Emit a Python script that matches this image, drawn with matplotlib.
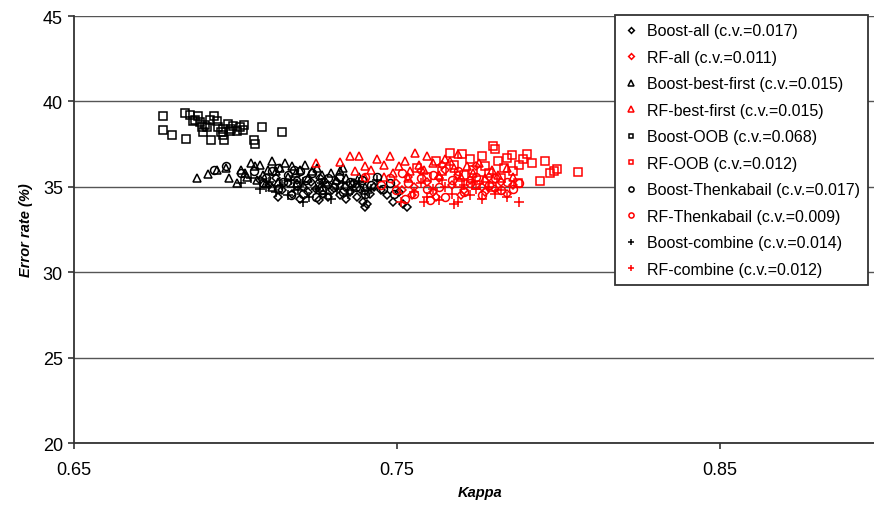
import matplotlib
matplotlib.use("Agg")
from matplotlib import pyplot as plt

plt.rcParams['font.family'] = ['Liberation Sans', 'DejaVu Sans']

# region Data
boost_all_k = [0.7076, 0.7104, 0.7124, 0.7143, 0.7162, 0.7176, 0.7191, 0.7210, 0.7224, 0.7234, 0.7248, 0.7262, 0.7272,
               0.7286, 0.7300, 0.7315, 0.7324, 0.7339, 0.7353, 0.7368, 0.7377, 0.7387, 0.7396, 0.7406, 0.7415, 0.7430,
               0.7449, 0.7468, 0.7487, 0.7506, 0.7520, 0.7531, 0.7401, 0.7200, 0.7258, 0.7133, 0.7286, 0.7343]
boost_all_e = [35.4, 35.1, 35.5, 34.8, 35.2, 34.6, 35.4, 35.0, 34.7, 35.3, 34.9, 35.5, 34.6,
               35.1, 34.8, 35.3, 34.5, 35.0, 34.7, 35.2, 34.4, 34.9, 34.1, 34.0, 34.6, 35.0,
               34.8, 34.5, 34.1, 34.7, 34.0, 33.8, 33.8, 34.3, 34.2, 34.4, 34.4, 34.3]

rf_all_k = [0.7497, 0.7516, 0.7535, 0.7554, 0.7573, 0.7592, 0.7611, 0.7630, 0.7650, 0.7669, 0.7688, 0.7707, 0.7726,
            0.7745, 0.7764, 0.7784, 0.7803, 0.7822, 0.7841, 0.7860, 0.7620, 0.7697, 0.7774, 0.7545, 0.7640]
rf_all_e = [35.2, 34.8, 35.6, 35.0, 35.9, 35.3, 34.7, 35.5, 36.0, 35.1, 35.7, 34.8, 35.4,
            36.2, 35.0, 35.6, 34.9, 35.3, 34.6, 35.1, 34.4, 34.5, 34.7, 34.5, 36.3]

boost_bf_k = [0.6880, 0.6914, 0.6943, 0.6972, 0.6981, 0.7005, 0.7018, 0.7028, 0.7047, 0.7061, 0.7076, 0.7085, 0.7100,
              0.7114, 0.7124, 0.7138, 0.7153, 0.7162, 0.7176, 0.7186, 0.7200, 0.7214, 0.7224, 0.7238, 0.7252, 0.7267,
              0.7281, 0.7296, 0.7310, 0.7324, 0.7343, 0.7362, 0.7381, 0.7400, 0.7191, 0.7095, 0.7133, 0.7037, 0.7262,
              0.7114, 0.7066, 0.7334]
boost_bf_e = [35.5, 35.75, 36.0, 36.1, 35.5, 35.2, 36.0, 35.8, 36.4, 36.2, 36.3, 35.7, 36.0,
              36.5, 35.9, 36.1, 36.4, 35.6, 36.2, 35.8, 36.0, 36.3, 35.5, 35.9, 36.1, 35.7,
              35.3, 35.8, 35.4, 35.9, 35.5, 35.2, 35.6, 35.0, 35.2, 35.2, 35.3, 35.6, 35.0,
              35.0, 35.4, 36.1]

rf_bf_k = [0.7248, 0.7324, 0.7353, 0.7382, 0.7370, 0.7400, 0.7420, 0.7439, 0.7459, 0.7478, 0.7487, 0.7506, 0.7526,
           0.7540, 0.7555, 0.7568, 0.7583, 0.7592, 0.7611, 0.7630, 0.7650, 0.7664, 0.7678, 0.7698, 0.7717, 0.7736,
           0.7755, 0.7774, 0.7793, 0.7812, 0.7841, 0.7860, 0.7459, 0.7535, 0.7400, 0.7688]
rf_bf_e = [36.4, 36.45, 36.8, 36.8, 35.9, 36.2, 36.0, 36.6, 36.3, 36.8, 35.8, 36.2, 36.5,
           35.9, 37.0, 36.3, 36.0, 36.8, 36.4, 35.7, 36.6, 36.5, 36.1, 35.6, 36.2, 35.8,
           36.4, 35.5, 36.0, 35.7, 36.1, 35.6, 35.6, 35.5, 35.5, 36.9]

boost_oob_k = [0.6776, 0.6776, 0.6803, 0.6844, 0.6847, 0.6859, 0.6868, 0.6884, 0.6890, 0.6896, 0.6899, 0.6912, 0.6924,
               0.6933, 0.6943, 0.6946, 0.6961, 0.6961, 0.6964, 0.6977, 0.6992, 0.6983, 0.7005, 0.7023, 0.7057, 0.7060,
               0.7082, 0.7144, 0.6920, 0.6905, 0.6955, 0.6985, 0.7015, 0.7025, 0.6875]
boost_oob_e = [39.15, 38.33, 38.03, 39.32, 37.8, 39.2, 38.85, 39.15, 38.79, 38.5, 38.21, 38.5, 37.74,
               39.15, 38.85, 38.5, 38.38, 38.03, 37.74, 38.68, 38.56, 38.27, 38.27, 38.33, 37.74, 37.51,
               38.5, 38.21, 38.9, 38.6, 38.2, 38.4, 38.5, 38.6, 38.9]

rf_oob_k = [0.7562, 0.7592, 0.7620, 0.7640, 0.7664, 0.7678, 0.7702, 0.7707, 0.7726, 0.7736, 0.7755, 0.7764, 0.7774,
            0.7784, 0.7798, 0.7803, 0.7812, 0.7822, 0.7832, 0.7841, 0.7856, 0.7860, 0.7875, 0.7879, 0.7889, 0.7903,
            0.7918, 0.7943, 0.7958, 0.7975, 0.7996, 0.7985, 0.8060, 0.7688, 0.7745, 0.7793]
rf_oob_e = [36.1, 35.6, 36.5, 35.9, 37.0, 36.3, 36.9, 35.7, 36.6, 36.0, 35.4, 36.8, 36.2,
            35.8, 37.4, 37.2, 36.5, 35.5, 36.1, 36.7, 36.86, 35.9, 35.2, 36.3, 36.6, 36.9,
            36.4, 35.34, 36.5, 35.8, 36.04, 35.9, 35.87, 35.2, 35.1, 35.0]

boost_th_k = [0.6934, 0.6972, 0.7018, 0.7056, 0.7095, 0.7114, 0.7133, 0.7148, 0.7162, 0.7181, 0.7191, 0.7210, 0.7219,
              0.7238, 0.7258, 0.7267, 0.7286, 0.7305, 0.7320, 0.7334, 0.7353, 0.7372, 0.7391, 0.7401, 0.7420, 0.7439,
              0.7458, 0.7477, 0.7492, 0.7172, 0.7248, 0.7085, 0.7133, 0.7200]
boost_th_e = [36.0, 36.2, 35.8, 35.9, 35.5, 35.9, 34.9, 35.3, 35.7, 36.0, 35.1, 34.6, 35.4,
              35.8, 35.2, 34.8, 35.5, 35.0, 35.6, 34.7, 35.3, 35.0, 35.4, 34.6, 35.1, 35.6,
              34.9, 35.2, 34.6, 34.5, 34.4, 35.2, 36.1, 35.9]

rf_th_k = [0.7449, 0.7478, 0.7497, 0.7516, 0.7535, 0.7554, 0.7573, 0.7592, 0.7611, 0.7630, 0.7650, 0.7669, 0.7688,
           0.7707, 0.7726, 0.7745, 0.7764, 0.7784, 0.7803, 0.7822, 0.7841, 0.7860, 0.7879, 0.7602, 0.7526, 0.7401]
rf_th_e = [35.1, 35.5, 34.8, 35.8, 35.2, 34.6, 35.5, 34.9, 35.7, 35.0, 34.4, 35.4, 35.9,
           34.7, 35.2, 35.6, 34.5, 35.1, 35.5, 34.8, 35.3, 34.9, 35.2, 34.2, 34.3, 35.6]

boost_comb_k = [0.7018, 0.7047, 0.7076, 0.7104, 0.7124, 0.7143, 0.7162, 0.7181, 0.7195, 0.7210, 0.7229, 0.7248, 0.7267,
                0.7281, 0.7296, 0.7315, 0.7334, 0.7348, 0.7362, 0.7381, 0.7401, 0.7420, 0.7210, 0.7439, 0.7172, 0.7095]
boost_comb_e = [35.2, 35.5, 34.9, 35.3, 34.7, 35.1, 34.5, 35.0, 34.8, 35.3, 34.4, 34.9, 35.2,
                34.6, 34.3, 34.9, 35.2, 34.6, 34.8, 35.3, 34.6, 34.9, 34.1, 35.4, 35.4, 35.0]

rf_comb_k = [0.7512, 0.7554, 0.7573, 0.7592, 0.7611, 0.7630, 0.7650, 0.7669, 0.7688, 0.7707, 0.7726, 0.7745, 0.7764,
             0.7784, 0.7803, 0.7822, 0.7841, 0.7879, 0.7640, 0.7736, 0.7583, 0.7678]
rf_comb_e = [34.1, 34.7, 35.2, 34.4, 34.9, 34.2, 35.0, 34.6, 34.1, 35.1, 34.5, 34.9, 34.3,
             35.0, 34.6, 34.8, 34.4, 34.1, 35.4, 35.3, 34.1, 34.0]

labels = ["Boost-all (c.v.=0.017)", "RF-all (c.v.=0.011)",
          "Boost-best-first (c.v.=0.015)", "RF-best-first (c.v.=0.015)",
          "Boost-OOB (c.v.=0.068)", "RF-OOB (c.v.=0.012)",
          "Boost-Thenkabail (c.v.=0.017)", "RF-Thenkabail (c.v.=0.009)",
          "Boost-combine (c.v.=0.014)", "RF-combine (c.v.=0.012)"]
x_ticks = [0.65, 0.75, 0.85]
y_ticks = [20, 25, 30, 35, 40, 45]
# endregion

series = [(boost_all_k, boost_all_e), (rf_all_k, rf_all_e),
          (boost_bf_k, boost_bf_e), (rf_bf_k, rf_bf_e),
          (boost_oob_k, boost_oob_e), (rf_oob_k, rf_oob_e),
          (boost_th_k, boost_th_e), (rf_th_k, rf_th_e),
          (boost_comb_k, boost_comb_e), (rf_comb_k, rf_comb_e)]
markers = ["D", "D", "^", "^", "s", "s", "o", "o", "+", "+"]
sizes = [4.5, 4.5, 6.3, 6.3, 5.5, 5.5, 5.7, 5.7, 7.2, 7.2]
colors = ["black", "red"] * 5

fig = plt.figure(figsize=(8.74, 5.06), dpi=100)
ax = fig.add_axes([0.0847, 0.1225, 0.9153, 0.8439])

for (k, e), m, ms, c, lab in zip(series, markers, sizes, colors, labels):
    ax.plot(k, e, linestyle="none", marker=m, markersize=ms, markerfacecolor="none",
            markeredgecolor=c, markeredgewidth=1.1, label=lab)

ax.set_xticks(x_ticks)
ax.set_yticks(y_ticks)
ax.set_xticklabels(["0.65", "0.75", "0.85"])
ax.set_xlim(0.65, 0.8977)
ax.set_ylim(20, 45)
ax.yaxis.grid(True, color="#555555", linewidth=1.0)
ax.set_axisbelow(True)
for s in ["top", "right"]:
    ax.spines[s].set_visible(False)
for s in ["left", "bottom"]:
    ax.spines[s].set_color("#333333")
    ax.spines[s].set_linewidth(1.3)
ax.tick_params(axis="both", labelsize=13, length=4, width=1.2, color="#333333")
ax.tick_params(axis="x", pad=9)
ax.tick_params(axis="y", pad=4)

ax.set_ylabel("Error rate (%)", fontsize=10.5, fontweight="bold", fontstyle="italic", labelpad=7)
fig.text(0.549, 0.025, "Kappa", fontsize=10.5, fontweight="bold", fontstyle="italic", ha="center", va="center")

leg = ax.legend(loc="upper right", bbox_to_anchor=(0.993, 0.968), bbox_transform=fig.transFigure,
                borderaxespad=0, fontsize=11.5, fancybox=False, framealpha=1, edgecolor="#333333",
                markerscale=0.65, handlelength=1.0, handletextpad=0.5, labelspacing=0.72,
                borderpad=0.5)
leg.get_frame().set_linewidth(1.3)

fig.savefig("out.png", dpi=100)
